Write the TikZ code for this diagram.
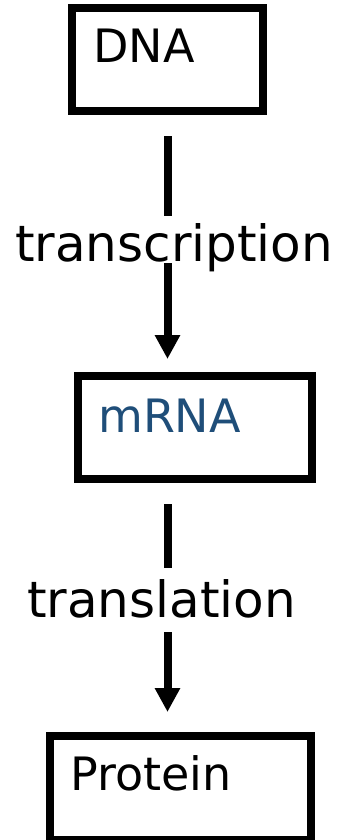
\documentclass[tikz,border=0pt]{standalone}
\usepackage{fontspec}
\setmainfont{DejaVu Sans}
\usepackage{xcolor}
\usetikzlibrary{arrows.meta,positioning}
\definecolor{mrnablue}{HTML}{1F4E79}

\begin{document}
\begin{tikzpicture}[
  x=1pt, y=-1pt,
  stagebox/.style={rectangle, draw, line width=8pt, inner sep=0pt},
  boxtext/.style={anchor=base west, inner sep=0pt,
    font=\fontsize{46}{55}\selectfont},
  steplabel/.style={fill=white, inner sep=0pt, text depth=1pt,
    font=\fontsize{50}{60}\selectfont},
  arr/.style={-{Triangle[length=24pt,width=24pt]}, line width=8pt,
    shorten <=21pt},
]
\useasboundingbox (0,0) rectangle (344,840);

% Stage boxes
\node[stagebox, minimum width=191pt, minimum height=103pt] (dna) at (167.5,59.5) {};
\node[stagebox, minimum width=234pt, minimum height=103pt] (mrna) at (195,427.5) {};
\node[stagebox, minimum width=261.5pt, minimum height=104pt] (protein) at (180.25,788) {};

% Box texts
\node[boxtext] (dnatxt) at ([shift={(25,59)}]dna.north west) {DNA};
\node[boxtext, text=mrnablue] (mrnatxt) at ([shift={(24,60)}]mrna.north west) {mRNA};
\node[boxtext] (proteintxt) at ([shift={(24.5,58)}]protein.north west) {Protein};

% Arrows
\draw[arr, shorten >=13pt] (dna.south) -- (dna.south |- mrna.north)
  node[steplabel, pos=0.484, xshift=6.5pt, text height=46pt] (transcr) {transcription};
\draw[arr, shorten >=20pt] (dna.south |- mrna.south) -- (dna.south |- protein.north)
  node[steplabel, pos=0.47, xshift=-6pt, text height=49pt, text depth=15pt] (transl) {translation};

\end{tikzpicture}
\end{document}
